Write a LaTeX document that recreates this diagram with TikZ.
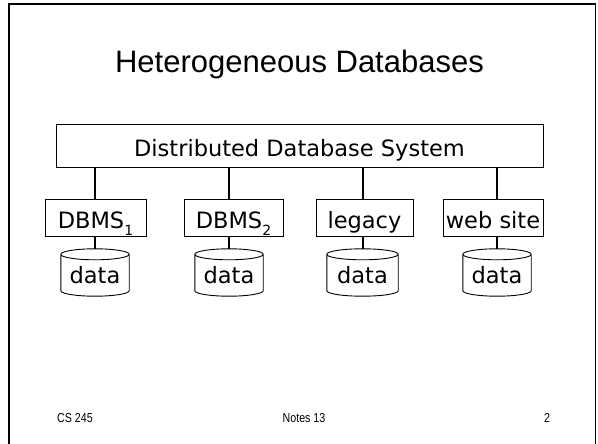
\documentclass[tikz,border=0pt]{standalone}
\usepackage{fontspec}
\setmainfont{Liberation Sans}
\newfontfamily\bodyfont{DejaVu Sans}
\newfontfamily\narrowfont[FakeStretch=0.82]{Liberation Sans}
\usetikzlibrary{calc}
\newcommand{\lowsub}[1]{\raisebox{-0.28em}{\fontsize{14}{14}\selectfont #1}}
\tikzset{
  box/.style={draw, line width=0.9pt, inner sep=0pt, minimum height=37pt,
    text height=22.5pt, text depth=0pt, font=\bodyfont\fontsize{22.5}{24}\selectfont},
  cylnode/.style={inner sep=0pt, minimum height=47pt,
    text height=22.5pt, text depth=0pt, font=\bodyfont\fontsize{22.5}{24}\selectfont},
  cylline/.style={line width=0.9pt},
  conn/.style={line width=2pt},
  foot/.style={inner sep=0pt, font=\narrowfont\fontsize{13}{13}\selectfont}
}
\begin{document}
\begin{tikzpicture}[x=1pt,y=-1pt]
\useasboundingbox (0,0) rectangle (598,444);
% slide frame
\draw[line width=2.6pt] (9,450) -- (9,4) -- (596,4);
\draw[line width=1.6pt] (595.5,4) -- (595.5,450);
% title
\node[inner sep=0pt, anchor=base, font=\fontsize{31}{31}\selectfont] (title) at (299.5,73) {Heterogeneous Databases};
% main box
\node[box, minimum width=487pt, minimum height=43pt] (dds) at (299.5,145.5) {Distributed Database System};
% DBMS boxes
\node[box, minimum width=101pt] (b1) at (95.5,217.5) {DBMS\lowsub{1}};
\node[box, minimum width=99pt] (b2) at (233.5,217.5) {DBMS\lowsub{2}};
\node[box, minimum width=97pt] (b3) at (364.5,217.5) {legacy};
\node[box, minimum width=100pt] (b4) at (493,217.5) {web site};
% cylinders
\node[cylnode, minimum width=68pt] (c1) at (95,272.5) {data};
\node[cylnode, minimum width=68pt] (c2) at (229,272.5) {data};
\node[cylnode, minimum width=71pt] (c3) at (362.5,272.5) {data};
\node[cylnode, minimum width=68pt] (c4) at (497,272.5) {data};
\foreach \cyl in {c1,c2,c3,c4}{
  \draw[cylline] let \p1=(\cyl.west), \p2=(\cyl.east), \n1={(\x2-\x1)/2} in
    ([yshift=-5.5pt]\cyl.north west) -- ([yshift=5.5pt]\cyl.south west)
    arc[start angle=180, end angle=360, x radius=\n1, y radius=5.5pt]
    -- ([yshift=-5.5pt]\cyl.north east)
    ([yshift=-5.5pt]\cyl.north) ellipse[x radius=\n1, y radius=5.5pt];
}
% connectors
\foreach \b/\c in {b1/c1,b2/c2,b3/c3,b4/c4}{
  \draw[conn] (\c.north |- dds.south) -- (\c.north |- \b.north);
  \draw[conn] (\c.north |- \b.south) -- (\c.north);
}
% footer
\node[foot, anchor=west] (f1) at (57,418) {CS 245};
\node[foot] (f2) at (304,418) {Notes 13};
\node[foot] (f3) at (547,418) {2};
\end{tikzpicture}
\end{document}
